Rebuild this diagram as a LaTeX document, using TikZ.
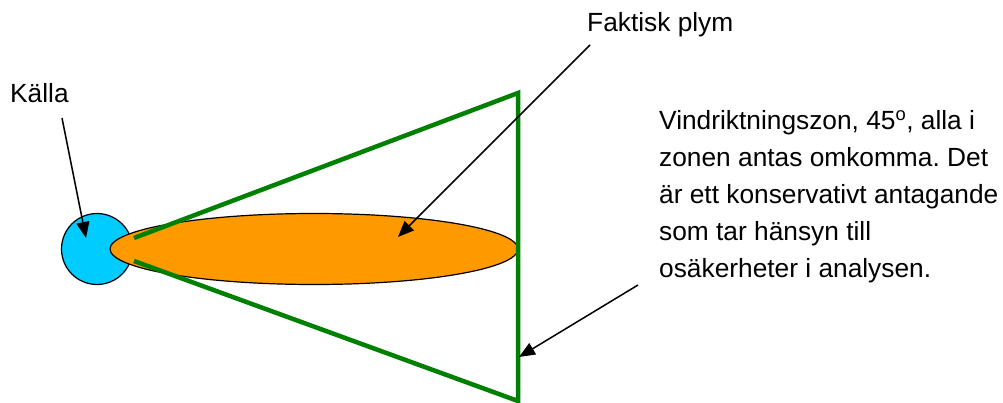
\documentclass[tikz,border=0pt]{standalone}
\usepackage{fontspec}
\setmainfont{Liberation Sans}
\usetikzlibrary{arrows.meta,shapes.geometric}
\definecolor{srcblue}{RGB}{0,204,255}
\definecolor{plumeorange}{RGB}{255,153,0}
\definecolor{zonegreen}{RGB}{0,128,0}
\frenchspacing
\begin{document}
\begin{tikzpicture}[x=1pt,y=-1pt,
  lbl/.style={font=\fontsize{26.3}{37}\selectfont,inner sep=0pt,anchor=base west},
  pointer/.style={draw=black,line width=1.5pt,-{Triangle[length=16pt,width=13pt]}},
  zone/.style={draw=zonegreen,line width=4.5pt}]
\useasboundingbox (0,0) rectangle (1003,403);
% source and plume
\node[circle,draw=black,line width=1.2pt,fill=srcblue,minimum size=71pt,inner sep=0pt] (src) at (97,249) {};
\node[ellipse,draw=black,line width=1.2pt,fill=plumeorange,minimum width=408pt,minimum height=71pt,inner sep=0pt] (plume) at (314,249) {};
% wind zone
\coordinate (z1) at (134,238);
\coordinate (ztop) at (518,93);
\coordinate (zbot) at (518,401);
\coordinate (z2) at (134,261);
\draw[zone] (z1) -- (ztop) -- (zbot) -- (z2);
% labels
\node[lbl] (kalla) at (10,103) {Källa};
\node[lbl] (faktisk) at (587,32) {Faktisk plym};
\node[lbl,align=left,anchor=north west] (zonetext) at (659,110) {\frenchspacing Vindriktningszon, 45\textsuperscript{o}, alla i\\zonen antas omkomma. Det\\är ett konservativt antagande\\som tar hänsyn till\\osäkerheter i analysen.};
% pointers
\coordinate (k0) at (62,118);
\coordinate (k1) at (86,238);
\coordinate (f0) at (590,45);
\coordinate (f1) at (398,237);
\coordinate (v0) at (638,285);
\coordinate (v1) at (519,357);
\draw[pointer] (k0) -- (k1);
\draw[pointer] (f0) -- (f1);
\draw[pointer] (v0) -- (v1);
\end{tikzpicture}
\end{document}
